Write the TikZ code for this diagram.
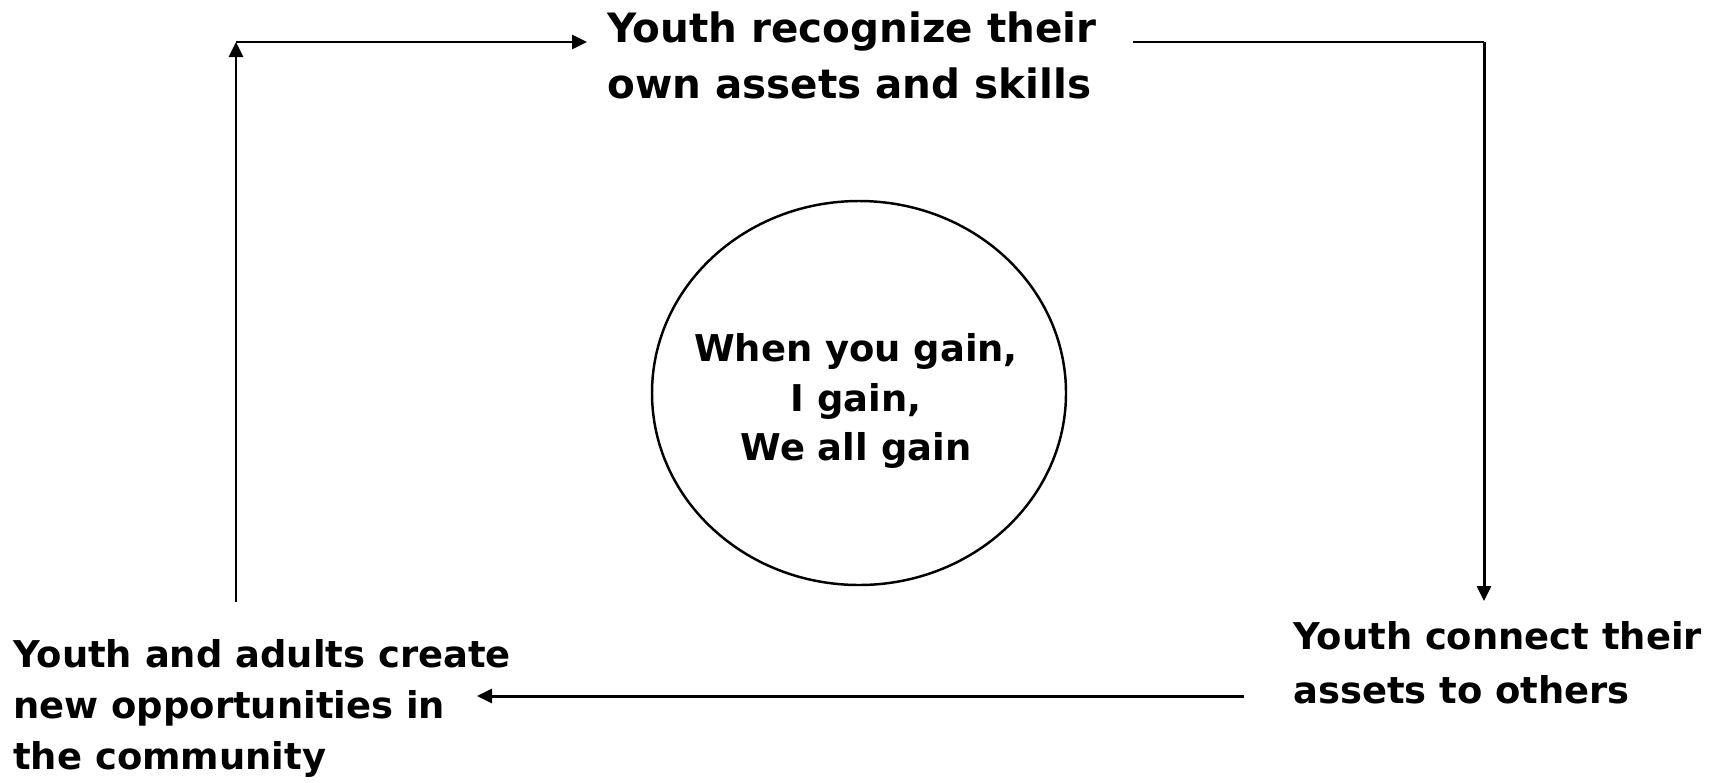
\documentclass[tikz,border=0pt]{standalone}
\usepackage{fontspec}
\setmainfont{DejaVu Sans}
\usetikzlibrary{arrows.meta,shapes.geometric}

\begin{document}
\begin{tikzpicture}[
        lbl/.style={align=left, inner sep=0, anchor=north west, font=\bfseries\fontsize{21}{29}\selectfont},
        lnk/.style={line width=1.7pt},
        arr/.style={line width=1.7pt, -{Triangle[length=0.3cm, width=0.28cm]}}]
        \useasboundingbox (0, 0) rectangle (34.42, -15.64);

        \node[lbl, font=\bfseries\fontsize{23}{32}\selectfont] (T1) at (12.14, -0.22) {Youth recognize their\\own assets and skills};
        \node[lbl, font=\bfseries\fontsize{21}{31}\selectfont] (T2) at (25.86, -12.42) {Youth connect their\\assets to others};
        \node[lbl] (T3) at (0.26, -12.78) {Youth and adults create\\new opportunities in\\the community};

        \node[draw, ellipse, line width=1.4pt, minimum width=8.28cm, minimum height=7.68cm, inner sep=0] (E1) at (17.18, -7.86) {};
        \node[align=center, inner sep=0, font=\bfseries\fontsize{21}{28}\selectfont] (E2) at (17.12, -8.02) {When you gain,\\I gain,\\We all gain};

        \coordinate (C1) at (22.66, -0.84);
        \coordinate (C2) at (29.68, -0.84);
        \coordinate (C3) at (29.68, -12.02);
        \coordinate (C4) at (24.88, -13.92);
        \coordinate (C5) at (9.54, -13.92);
        \coordinate (C6) at (4.72, -12.04);
        \coordinate (C7) at (4.72, -0.84);
        \coordinate (C8) at (11.74, -0.84);

        \draw[lnk] (C1) to (C2);
        \draw[arr] (C2) to (C3);
        \draw[arr] (C4) to (C5);
        \draw[arr] (C6) to (C7);
        \draw[arr] (C7) to (C8);
    \end{tikzpicture}
\end{document}
